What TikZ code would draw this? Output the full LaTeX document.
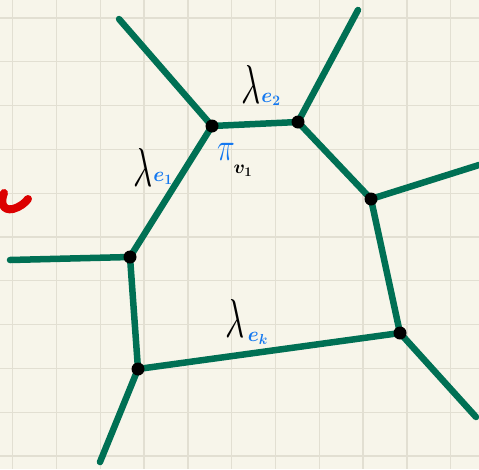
\documentclass[tikz,border=0pt]{standalone}
\usepackage{amsmath}
\definecolor{bg}{RGB}{247,245,234}
\definecolor{gridc}{RGB}{226,223,210}
\definecolor{edgec}{RGB}{0,112,84}
\definecolor{labc}{RGB}{20,120,240}
\definecolor{redc}{RGB}{220,0,0}
\begin{document}
\begin{tikzpicture}[x=1pt,y=-1pt,
  edge/.style={draw=edgec,line width=6.5pt,line cap=round},
  vert/.style={circle,fill=black,inner sep=0pt,minimum size=13pt},
  lam/.style={inner sep=0pt,font=\Huge,transform shape,xscale=1.35,yscale=2.2},
  sub/.style={inner sep=0pt,text=labc,font=\LARGE,transform shape,xscale=1.15,yscale=1.2},
]
\fill[bg] (0,0) rectangle (479,469);
\useasboundingbox (0,0) rectangle (479,469);
\foreach \k in {0,...,10} {
  \draw[gridc,line width=1.3pt] (12.7+43.8*\k,0) -- (12.7+43.8*\k,469);
  \draw[gridc,line width=1.3pt] (0,18+43.8*\k) -- (479,18+43.8*\k);
}
% vertices
\coordinate (A) at (212,126);
\coordinate (B) at (298,122);
\coordinate (C) at (371,199);
\coordinate (D) at (400,333);
\coordinate (E) at (138,369);
\coordinate (F) at (130,257);
\coordinate (a) at (119,19);
\coordinate (b) at (358,10);
\coordinate (c) at (479,165);
\coordinate (d) at (476,417);
\coordinate (e) at (100,462);
\coordinate (f) at (10,260);
\draw[edge] (A) -- (B) -- (C) -- (D) -- (E) -- (F) -- cycle;
\draw[edge] (A) -- (a);
\draw[edge] (B) -- (b);
\draw[edge] (C) -- (c);
\draw[edge] (D) -- (d);
\draw[edge] (E) -- (e);
\draw[edge] (F) -- (f);
\foreach \p in {A,B,C,D,E,F} \node[vert] (n\p) at (\p) {};
% red mark
\draw[redc,line width=8pt,line cap=round] (4,193) .. controls (0,203) and (3,211) .. (13,209) .. controls (20,207) and (25,203) .. (28,199);
% labels
\node[lam] (l2) at (251,84) {$\lambda$};
\node[sub] (s2) at (271,99) {$\boldsymbol{e_{2}}$};
\node[lam] (l1) at (143,167) {$\lambda$};
\node[sub] (s1) at (163,178) {$\boldsymbol{e_{1}}$};
\node[lam] (lk) at (235,318) {$\lambda$};
\node[sub] (sk) at (258,338) {$\boldsymbol{e_{k}}$};
\node[inner sep=0pt,text=labc,font=\Huge,transform shape,xscale=1.2,yscale=1.6] (pi) at (226,152) {$\pi$};
\node[inner sep=0pt,font=\LARGE,transform shape,xscale=1.1,yscale=1.1] (v1) at (243,171) {$\boldsymbol{v_{1}}$};
\end{tikzpicture}
\end{document}
